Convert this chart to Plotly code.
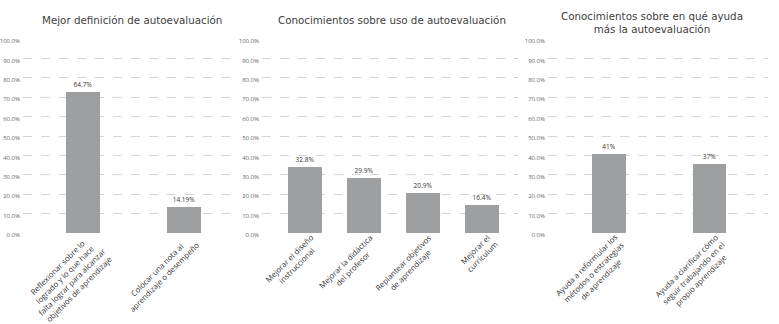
import math
import plotly.graph_objects as go

W, H = 779, 324

# ---- data ----
titles = [
    "Mejor definición de autoevaluación",
    "Conocimientos sobre uso de autoevaluación",
    "Conocimientos sobre en qué ayuda<br>más la autoevaluación",
]
cats1 = ["Reflexionar sobre lo<br>logrado y lo que hace<br>falta lograr para alcanzar<br>objetivos de aprendizaje",
         "Colocar una nota al<br>aprendizaje o desempeño"]
vals1 = [72.5, 13.2]
text1 = ["64.7%", "14.19%"]

cats2 = ["Mejorar el diseño<br>instruccional",
         "Mejorar la didáctica<br>del profesor",
         "Replantear objetivos<br>de aprendizaje",
         "Mejorar el<br>currículum"]
vals2 = [34.0, 28.6, 20.6, 14.6]
text2 = ["32.8%", "29.9%", "20.9%", "16.4%"]

cats3 = ["Ayuda a reformular los<br>métodos o estrategias<br>de aprendizaje",
         "Ayuda a clarificar cómo<br>seguir trabajando en el<br>propio aprendizaje"]
vals3 = [40.5, 35.6]
text3 = ["41%", "37%"]

yticks = [0, 10, 20, 30, 40, 50, 60, 70, 80, 90, 100]
yticklabels = ["0.0%", "10.0%", "20.0%", "30.0%", "40.0%", "50.0%",
               "60.0%", "70.0%", "80.0%", "90.0%", "100.0%"]

# ---- style / layout ----
BAR = "#9d9fa0"
TXT = "#333333"
GRID = "#d4d4d4"
FONT = "Open Sans"
CAT_SIZE = 7.8

def px2x(p):
    return p / W

def px2y(p):
    return 1 - p / H

ydom = [px2y(237), px2y(38)]
panels = [
    dict(cats=cats1, vals=vals1, text=text1, dom=[px2x(23), px2x(230)], rng=[-0.594, 1.455], width=0.337,
         title=titles[0], tx=132, ty=18),
    dict(cats=cats2, vals=vals2, text=text2, dom=[px2x(262), px2x(518)], rng=[-0.73, 3.61], width=0.576,
         title=titles[1], tx=392, ty=18),
    dict(cats=cats3, vals=vals3, text=text3, dom=[px2x(548), px2x(768)], rng=[-0.607, 1.582], width=0.338,
         title=titles[2], tx=652, ty=21),
]

fig = go.Figure()
annotations = []
LH = CAT_SIZE * 1.3

for i, p in enumerate(panels):
    sfx = "" if i == 0 else str(i + 1)
    idx = list(range(len(p["cats"])))
    fig.add_trace(go.Bar(
        x=idx, y=p["vals"], text=p["text"], textposition="outside",
        textfont=dict(family=FONT, size=6.5, color=TXT),
        marker=dict(color=BAR, line=dict(width=0)),
        width=p["width"], cliponaxis=False,
        xaxis="x" + sfx, yaxis="y" + sfx, showlegend=False, hoverinfo="skip",
    ))
    fig.layout["xaxis" + sfx] = dict(
        domain=p["dom"], range=p["rng"], showticklabels=False, showgrid=False,
        zeroline=False, showline=False, ticks="", anchor="y" + sfx, fixedrange=True,
    )
    fig.layout["yaxis" + sfx] = dict(
        domain=ydom, range=[0, 100], tickvals=yticks, ticktext=yticklabels,
        showgrid=True, gridcolor=GRID, griddash="dash", gridwidth=1, zeroline=False,
        showline=False, ticks="", tickfont=dict(family=FONT, size=6, color="#666666"),
        anchor="x" + sfx, fixedrange=True, ticklabelstandoff=2, ticklabelshift=2,
    )
    for j, c in enumerate(p["cats"]):
        n = c.count("<br>") + 1
        annotations.append(dict(
            x=j, xref="x" + sfx, y=px2y(233), yref="paper", text=c, showarrow=False,
            textangle=-45, xanchor="right", yanchor="top", align="center",
            xshift=n * LH / math.sqrt(2) + 6, font=dict(family=FONT, size=CAT_SIZE, color=TXT),
        ))
    annotations.append(dict(
        x=px2x(p["tx"]), xref="paper", y=px2y(p["ty"]), yref="paper", text=p["title"],
        showarrow=False, xanchor="center", yanchor="middle", align="center",
        font=dict(family="DejaVu Sans", size=10.3, color="#404040"),
    ))

fig.update_layout(
    width=W, height=H, autosize=False, margin=dict(l=0, r=0, t=0, b=0),
    paper_bgcolor="white", plot_bgcolor="white", annotations=annotations,
    bargap=0,
)

fig.write_html("out.html", config={"displayModeBar": False},
               post_script="document.body.style.margin='0';document.body.style.overflow='hidden';")
